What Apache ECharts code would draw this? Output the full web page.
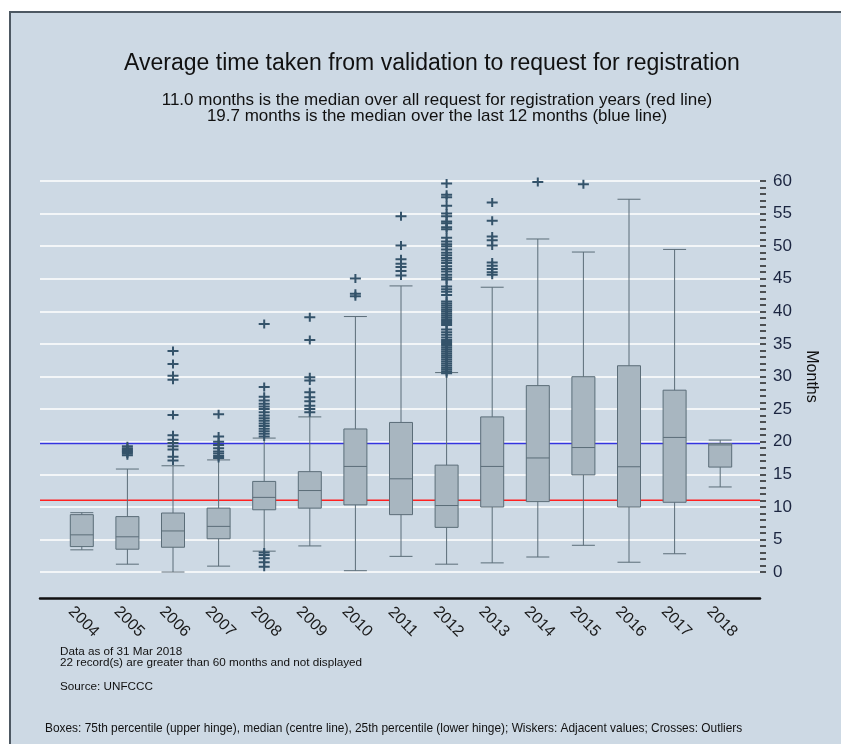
<!DOCTYPE html>
<html>
<head>
<meta charset="utf-8">
<script src="https://cdn.jsdelivr.net/npm/echarts@6/dist/echarts.min.js"></script>
<style>
  html, body { margin: 0; padding: 0; background: #ffffff; overflow: hidden; }
  .frame {
    position: absolute; left: 9px; top: 11px; width: 900px; height: 800px;
    background: #cdd9e4; border-left: 2px solid #4d5862; border-top: 2px solid #4d5862;
  }
  #chart { position: absolute; left: 0; top: 0; width: 841px; height: 744px; }
</style>
</head>
<body>
<div class="frame"></div>
<div id="chart"></div>
<script>
const years = ['2004', '2005', '2006', '2007', '2008', '2009', '2010', '2011', '2012', '2013', '2014', '2015', '2016', '2017', '2018'];
const whiskerLow = [3.4, 1.2, 0.0, 0.9, 3.2, 4.0, 0.2, 2.4, 1.2, 1.4, 2.3, 4.1, 1.5, 2.8, 13.05];
const q1 = [3.9, 3.5, 3.8, 5.1, 9.55, 9.8, 10.3, 8.8, 6.85, 9.97, 10.8, 14.9, 9.97, 10.7, 16.1];
const medians = [5.7, 5.4, 6.3, 7.0, 11.45, 12.5, 16.2, 14.3, 10.2, 16.2, 17.5, 19.1, 16.15, 20.65, 19.5];
const q3 = [8.8, 8.5, 9.05, 9.8, 13.9, 15.4, 21.95, 22.95, 16.4, 23.8, 28.6, 29.97, 31.65, 27.9, 19.7];
const whiskerHigh = [9.1, 15.8, 16.3, 17.2, 20.55, 23.8, 39.2, 43.9, 30.6, 43.7, 51.1, 49.1, 57.2, 49.5, 20.25];

// outliers per year (crosses)
const outliers = [
  [],
  [17.9, 18.2, 18.4, 18.6, 18.8, 19.0, 19.3],
  [33.9, 31.9, 30.1, 29.5, 24.1, 21.0, 20.3, 19.8, 19.3, 18.8, 17.7, 17.1],
  [24.2, 20.8, 20.0, 19.5, 19.0, 18.5, 18.2, 17.8, 17.5],
  [38.05, 28.4, 26.9, 26.3, 25.8, 25.4, 25.0, 24.5, 24.0, 23.6, 23.2, 22.8, 22.4, 22.0, 21.6, 21.2, 20.8, 3.0, 2.6, 2.1, 1.5, 0.8],
  [39.1, 35.6, 29.9, 29.4, 27.6, 26.8, 26.2, 25.5, 25.0, 24.5],
  [45.05, 42.7, 42.3],
  [54.6, 50.1, 48.0, 47.3, 46.8, 46.2, 45.5],
  [59.6, 57.9, 57.5, 56.2, 55.0, 54.6, 53.8, 53.5, 52.9, 52.6, 51.3, 50.7, 50.3, 50.0, 49.5, 49.0, 48.6, 48.2, 47.8, 47.4,
   46.9, 46.5, 46.1, 45.6, 45.2, 44.9, 43.8, 43.4, 43.0, 42.5, 41.5, 41.2, 40.9, 40.6, 40.3, 40.0, 39.7, 39.4, 39.1, 38.8,
   38.5, 38.2, 37.9, 37.2, 36.8, 36.4, 36.0, 35.6, 35.3, 35.0, 34.7, 34.4, 34.1, 33.8, 33.5, 33.2, 32.9, 32.6, 32.3, 32.0,
   31.7, 31.4, 31.1, 30.8, 30.5],
  [56.7, 53.9, 51.5, 50.9, 50.1, 47.5, 47.0, 46.5, 46.0, 45.6],
  [59.85],
  [59.5],
  [],
  [],
  []
];

const medianAll = 11.0;    // red line
const medianLast12 = 19.7; // blue line

const yTicks = [0, 60];

const chart = echarts.init(document.getElementById('chart'));

const boxData = years.map((_, i) => [whiskerLow[i], q1[i], medians[i], q3[i], whiskerHigh[i]]);
const outlierData = outliers.flatMap((vals, i) => vals.map((v) => [i, v]));

const crossPath = 'path://M0,3.5H4.5V0H6.5V3.5H11V5.5H6.5V9H4.5V5.5H0Z';
const font = "'Liberation Sans', Arial, sans-serif";

const option = {
  backgroundColor: 'transparent',
  animation: false,
  textStyle: { fontFamily: font },
  title: [
    {
      text: 'Average time taken from validation to request for registration',
      left: 432, top: 52, textAlign: 'center', padding: 0,
      textStyle: { fontSize: 23, fontWeight: 'normal', color: '#111', fontFamily: font },
    },
    {
      text: '11.0 months is the median over all request for registration years (red line)\n19.7 months is the median over the last 12 months (blue line)',
      left: 437, top: 92, textAlign: 'center', padding: 0,
      textStyle: { fontSize: 17, lineHeight: 16.5, fontWeight: 'normal', color: '#111', fontFamily: font },
    },
    {
      text: 'Data as of 31 Mar 2018\n22 record(s) are greater than 60 months and not displayed',
      left: 60, top: 646, padding: 0,
      textStyle: { fontSize: 11.7, lineHeight: 11, fontWeight: 'normal', color: '#111', fontFamily: font },
    },
    {
      text: 'Source: UNFCCC',
      left: 60, top: 681, padding: 0,
      textStyle: { fontSize: 11.7, fontWeight: 'normal', color: '#111', fontFamily: font },
    },
    {
      text: 'Boxes: 75th percentile (upper hinge), median (centre line), 25th percentile (lower hinge); Wiskers: Adjacent values; Crosses: Outliers',
      left: 45, top: 723, padding: 0,
      textStyle: { fontSize: 11.9, fontWeight: 'normal', color: '#111', fontFamily: font },
    },
  ],
  grid: [
    { left: 40, right: 81, top: 181, bottom: 172 },
    { left: 59, right: 98, top: 181, bottom: 172 },
  ],
  xAxis: [
    {
      gridIndex: 0, type: 'value', min: 0, max: 1, offset: 26,
      axisLine: { show: true, onZero: false, lineStyle: { color: '#111', width: 2.5 } },
      axisTick: { show: false }, axisLabel: { show: false }, splitLine: { show: false },
    },
    {
      gridIndex: 1, type: 'category', data: years,
      axisLine: { show: false, onZero: false }, axisTick: { show: false },
      axisLabel: {
        rotate: -45, align: 'center', verticalAlign: 'middle', margin: 48,
        fontSize: 16, color: '#1a1a1a', fontFamily: font, padding: [0, 0, 0, 5],
      },
    },
  ],
  yAxis: [
    {
      gridIndex: 0, type: 'value', position: 'right',
      min: yTicks[0], max: yTicks[1], interval: 5,
      name: 'Months', nameLocation: 'middle', nameRotate: -90, nameGap: 43,
      nameTextStyle: { fontSize: 16, color: '#111', fontFamily: font },
      axisLine: { show: false, onZero: false },
      axisTick: { show: true, length: 6, lineStyle: { color: '#222', width: 1.5 } },
      minorTick: { show: true, splitNumber: 5, length: 6, lineStyle: { color: '#222', width: 1.5 } },
      axisLabel: { fontSize: 17, margin: 13, color: '#1b2540', fontFamily: font },
      splitLine: { lineStyle: { color: '#ffffff', width: 1.5 } },
    },
    {
      gridIndex: 1, type: 'value', min: yTicks[0], max: yTicks[1],
      show: false, splitLine: { show: false },
    },
  ],
  series: [
    {
      type: 'line', xAxisIndex: 0, yAxisIndex: 0, z: 1,
      data: [[0, medianAll], [1, medianAll]], symbol: 'none',
      lineStyle: { color: '#ff2020', width: 1.5 },
    },
    {
      type: 'line', xAxisIndex: 0, yAxisIndex: 0, z: 1,
      data: [[0, medianLast12], [1, medianLast12]], symbol: 'none',
      lineStyle: { color: '#3434e0', width: 1.5 },
    },
    {
      type: 'boxplot', xAxisIndex: 1, yAxisIndex: 1, z: 3,
      data: boxData,
      boxWidth: [23, 23],
      itemStyle: { color: '#a8b6c0', borderColor: '#5b6d78', borderWidth: 1 },
    },
    {
      type: 'scatter', xAxisIndex: 1, yAxisIndex: 1, z: 4,
      data: outlierData,
      symbol: crossPath, symbolSize: [11, 9],
      itemStyle: { color: '#34536a', opacity: 1 },
    },
  ],
};

chart.setOption(option);
</script>
</body>
</html>
